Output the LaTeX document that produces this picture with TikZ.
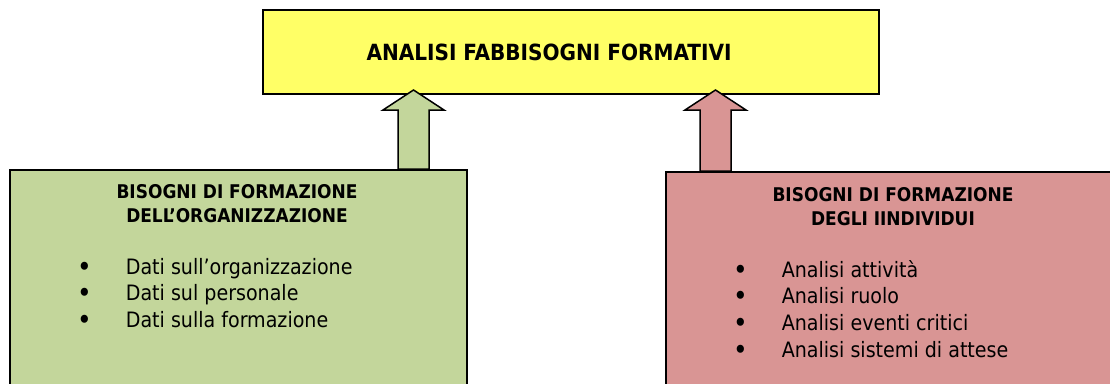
\documentclass[tikz,border=0pt]{standalone}
\usepackage{fontspec}
\usepackage{graphicx}
\setmainfont{DejaVu Sans Condensed}
\definecolor{ylw}{HTML}{FFFF66}
\definecolor{grn}{HTML}{C3D69B}
\definecolor{rd}{HTML}{D99594}
\newcommand\mybul{\raisebox{-0.1em}{\scalebox{1.3}{\textbullet}}}
\begin{document}
\begin{tikzpicture}[x=1pt,y=-1pt,
  box/.style={draw=black,line width=1.5pt,anchor=north west,inner sep=0pt},
  blk/.style={draw=black,line width=1.5pt,line join=miter},
  ttl/.style={font=\bfseries\fontsize{22.3}{26}\selectfont,inner sep=0pt,anchor=base},
  sub/.style={font=\bfseries\fontsize{18.9}{24.5}\selectfont,inner sep=0pt,anchor=base},
  lst/.style={font=\fontsize{21.2}{26.7}\selectfont,inner sep=0pt,anchor=base west}]
\useasboundingbox (0,0) rectangle (1110,383);
\clip (0,0) rectangle (1110,383);
% boxes
\node[box,fill=ylw,minimum width=616pt,minimum height=84pt] (top) at (262,9) {};
\node[box,fill=grn,minimum width=457pt,minimum height=260pt] (org) at (9,169) {};
\node[box,fill=rd,minimum width=456pt,minimum height=260pt] (ind) at (665,171) {};
% block arrows
\coordinate (ga) at (413.5,169);
\coordinate (ra) at (715.5,171);
\draw[blk,fill=grn] ([xshift=-15.5pt]ga) -- (398,110) -- (383,110) -- (413.5,90) -- (444,110) -- (429,110) -- ([xshift=15.5pt]ga) -- cycle;
\draw[blk,fill=rd] ([xshift=-15.5pt]ra) -- (700,110) -- (685,110) -- (715.5,90) -- (746,110) -- (731,110) -- ([xshift=15.5pt]ra) -- cycle;
% texts
\node[ttl] (t0) at (549,60) {ANALISI FABBISOGNI FORMATIVI};
\node[sub] (t1) at (237,198) {\begin{tabular}[t]{@{}c@{}}BISOGNI DI FORMAZIONE\\DELL’ORGANIZZAZIONE\end{tabular}};
\node[sub] (t2) at (893,201) {\begin{tabular}[t]{@{}c@{}}BISOGNI DI FORMAZIONE\\DEGLI IINDIVIDUI\end{tabular}};
\node[lst] (l1) at (77,274) {\begin{tabular}[t]{@{}l@{\hspace{34pt}}l@{}}\mybul & Dati sull’organizzazione\\ \mybul & Dati sul personale\\ \mybul & Dati sulla formazione\end{tabular}};
\node[lst] (l2) at (733,277) {\begin{tabular}[t]{@{}l@{\hspace{34pt}}l@{}}\mybul & Analisi attività\\ \mybul & Analisi ruolo\\ \mybul & Analisi eventi critici\\ \mybul & Analisi sistemi di attese\end{tabular}};
\end{tikzpicture}
\end{document}
